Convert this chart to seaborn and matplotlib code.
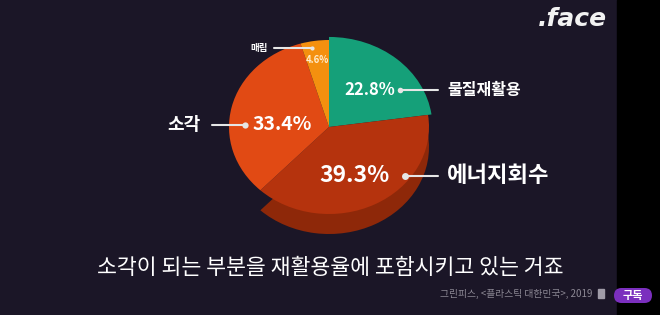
import matplotlib
matplotlib.use('Agg')
import matplotlib.pyplot as plt
import seaborn as sns
from matplotlib.patches import FancyBboxPatch, Rectangle

# ---- data ----
categories = ['물질재활용', '에너지회수', '소각', '매립']
shares = [22.8, 39.3, 33.4, 4.6]
share_labels = ['22.8%', '39.3%', '33.4%', '4.6%']
title_text = '소각이 되는 부분을 재활용율에 포함시키고 있는 거죠'
source_text = '그린피스, <플라스틱 대한민국>, 2019'
logo_text = '.face'
button_text = '구독'

sns.set_theme(style='dark')
plt.rcParams['font.family'] = ['Noto Sans CJK KR', 'DejaVu Sans']

BG = '#1b1627'
palette = sns.color_palette(['#15a079', '#b5330d', '#e14a14', '#f4900f'])
rim = ['none', '#8e2809', 'none', 'none']

fig = plt.figure(figsize=(6.6, 3.15), dpi=100, facecolor=BG)
bg = fig.add_axes([0, 0, 1, 1], zorder=0)
bg.set_xlim(0, 660); bg.set_ylim(315, 0); bg.axis('off')
bg.add_patch(Rectangle((617, 0), 43, 315, color='black'))

cx, cy = 329, 127
sx, sy = 100, 87
half = 1.5
pax = fig.add_axes([(cx - half * sx) / 660, (315 - cy - half * sy) / 315,
                    2 * half * sx / 660, 2 * half * sy / 315], zorder=1)
pax.pie(shares, colors=rim, startangle=90, counterclock=False,
        center=(0, -0.23), radius=1.0, wedgeprops=dict(linewidth=0))
wedges, _ = pax.pie(shares, colors=palette, startangle=90, counterclock=False,
                    radius=1.0, wedgeprops=dict(linewidth=0))
wedges[0].set_radius(1.035)
pax.set_xlim(-half, half); pax.set_ylim(-half, half)
pax.set_aspect('auto'); pax.axis('off')
pax.patch.set_alpha(0)

tx = fig.add_axes([0, 0, 1, 1], zorder=2)
tx.set_xlim(0, 660); tx.set_ylim(315, 0); tx.axis('off'); tx.patch.set_alpha(0)

W = 'white'
LC = '#e6e6e6'

def leader(x0, x1, y, dotx, ms=4):
    tx.plot([x0, x1], [y, y], color=LC, lw=1.5, solid_capstyle='round')
    tx.plot([dotx], [y], 'o', color=LC, ms=ms, mec='none')

# 22.8%
tx.text(370, 90, share_labels[0], color=W, fontsize=12, fontweight='bold', ha='center', va='center')
leader(400, 438, 90, 400)
tx.text(447, 90, categories[0], color=W, fontsize=11.5, fontweight='bold', ha='left', va='center')
# 39.3%
tx.text(354, 176, share_labels[1], color=W, fontsize=16.5, fontweight='bold', ha='center', va='center')
leader(405, 438, 176, 405, ms=5)
tx.text(447, 176, categories[1], color=W, fontsize=16, fontweight='bold', ha='left', va='center')
# 33.4%
tx.text(282, 125, share_labels[2], color=W, fontsize=14, fontweight='bold', ha='center', va='center')
leader(212, 245, 125, 245, ms=4.5)
tx.text(201, 125, categories[2], color=W, fontsize=13, fontweight='bold', ha='right', va='center')
# 4.6%
tx.text(317.5, 60, share_labels[3], color='#ffeccc', fontsize=6.8, fontweight='bold', ha='center', va='center')
leader(274, 312, 48, 312, ms=3)
tx.text(268, 48, categories[3], color=W, fontsize=6.8, fontweight='bold', ha='right', va='center')

# title / source
tx.text(330, 268, title_text, color=W, fontsize=15.6, fontweight='medium', ha='center', va='center')
tx.text(592, 294, source_text, color='#8c8894', fontsize=7, ha='right', va='center')
tx.add_patch(Rectangle((598, 289), 6, 9, color='#a09ca8'))

# logo
tx.text(572, 19, logo_text, color='#f2f2f2', fontsize=18, fontweight='bold', fontstyle='italic',
        family='DejaVu Sans', ha='center', va='center')

# subscribe button
tx.add_patch(FancyBboxPatch((614, 288), 38, 15, boxstyle='round,pad=0,rounding_size=7.5',
                            color='#7b2fbe', lw=0))
tx.text(633, 295.5, button_text, color=W, fontsize=8, fontweight='bold', ha='center', va='center')

fig.savefig('out.png', dpi=100, facecolor=BG)
